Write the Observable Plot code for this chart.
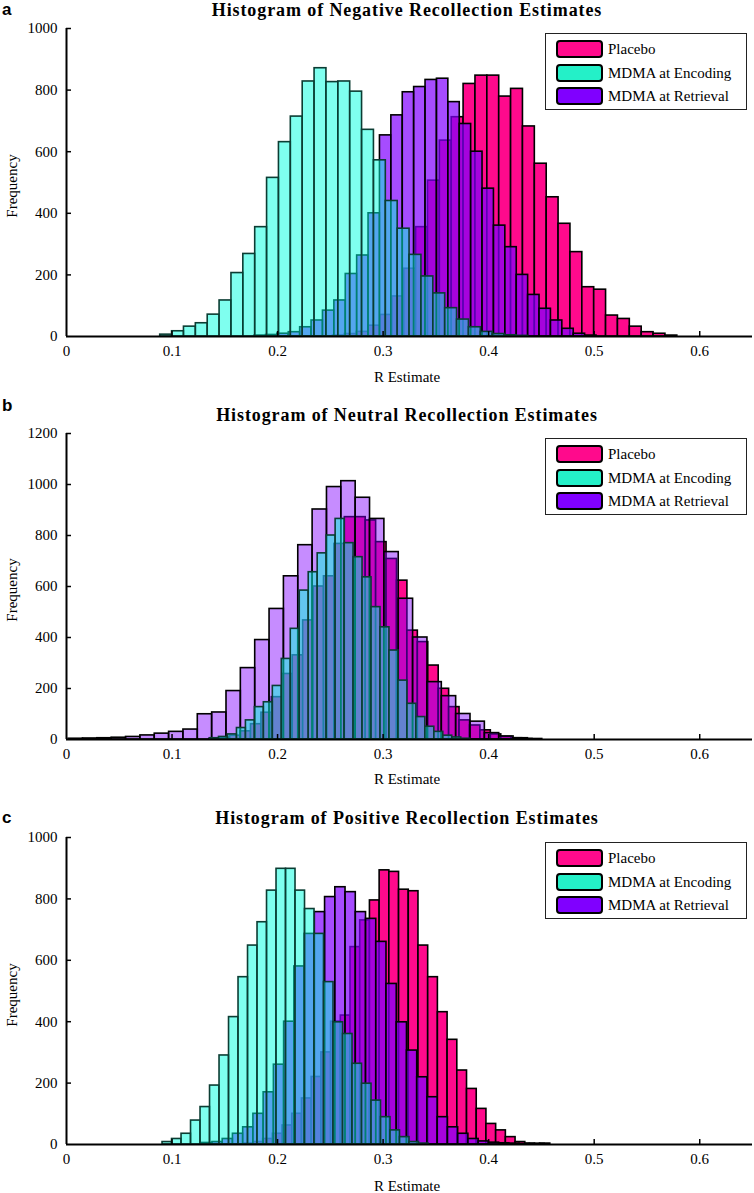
<!DOCTYPE html>
<html>
<head>
<meta charset="utf-8">
<script src="https://cdn.jsdelivr.net/npm/d3@7"></script>
<script src="https://cdn.jsdelivr.net/npm/@observablehq/plot@0.6"></script>
<style>
  body { margin: 0; background: #fff; }
  #root { position: relative; width: 754px; height: 1193px; overflow: hidden; background: #fff;
          font-family: "Liberation Serif", "Times New Roman", serif; color: #000; }
  .abs { position: absolute; }
  .letter { font-family: "Liberation Sans", Arial, sans-serif; font-weight: bold; font-size: 17px; line-height: 17px; }
  .title { font-family: "Liberation Serif", serif; font-weight: bold; font-size: 18px; letter-spacing: 0.9px; white-space: nowrap; transform: translate(-50%, -50%); }
  .xlab { font-family: "Liberation Serif", serif; font-size: 15px; white-space: nowrap; transform: translate(-50%, -50%); }
  .ylab { font-family: "Liberation Serif", serif; font-size: 15px; white-space: nowrap; transform: translate(-50%, -50%) rotate(-90deg); }
  .legend { border: 1.5px solid #222; background: #fff; box-sizing: border-box; }
  .sw { position: absolute; left: 10px; width: 47px; height: 18px; border: 2px solid #000; border-radius: 4px; box-sizing: border-box; }
  .lt { position: absolute; left: 62px; font-family: "Liberation Serif", "Times New Roman", serif; font-size: 15px; line-height: 18px; white-space: nowrap; }
</style>
</head>
<body>
<div id="root"></div>
<script>
// ---------- labels / ticks ----------
const panelLetters = ["a", "b", "c"];
const panelTitles = [
  "Histogram of Negative Recollection Estimates",
  "Histogram of Neutral Recollection Estimates",
  "Histogram of Positive Recollection Estimates"
];
const xLabel = "R Estimate";
const yLabel = "Frequency";
const seriesNames = ["Placebo", "MDMA at Encoding", "MDMA at Retrieval"];
const seriesColors = ["#ff0a8c", "#00ffe0", "#8000ff"];
const legendColors = ["#ff0a8c", "#24f0c8", "#8000ff"];
const xTicks = [0, 0.1, 0.2, 0.3, 0.4, 0.5, 0.6];
const yTicksA = [0, 200, 400, 600, 800, 1000];
const yTicksB = [0, 200, 400, 600, 800, 1000, 1200];
const yTicksC = [0, 200, 400, 600, 800, 1000];

// ---------- panel a: Negative ----------
const negPlaceboStart = 0.2525, negPlaceboWidth = 0.01125;
const negPlaceboCounts = [3, 8, 15, 35, 70, 130, 220, 355, 506, 636, 712, 820, 847, 847, 779, 804, 682, 561, 452, 366, 274, 160, 152, 68, 57, 32, 14, 9, 3];
const negEncodingStart = 0.0888, negEncodingWidth = 0.01125;
const negEncodingCounts = [6, 17, 32, 43, 71, 117, 206, 268, 355, 515, 631, 714, 828, 871, 826, 828, 795, 671, 572, 440, 350, 265, 195, 140, 92, 55, 30, 15, 8, 4, 2];
const negRetrievalStart = 0.1782, negRetrievalWidth = 0.0108;
const negRetrievalCounts = [3, 5, 9, 14, 30, 52, 84, 117, 203, 263, 400, 653, 718, 793, 810, 833, 837, 761, 690, 600, 480, 360, 290, 200, 135, 90, 52, 25, 9, 3];

// ---------- panel b: Neutral ----------
const neuPlaceboStart = 0.1353, neuPlaceboWidth = 0.00988;
const neuPlaceboCounts = [3, 7, 15, 32, 60, 105, 166, 257, 330, 467, 600, 640, 767, 872, 872, 859, 774, 708, 623, 427, 382, 290, 199, 127, 75, 55, 36, 20, 10, 5, 2];
const neuEncodingStart = 0.136, neuEncodingWidth = 0.0085;
const neuEncodingCounts = [5, 10, 20, 45, 75, 127, 146, 210, 316, 434, 584, 656, 730, 800, 865, 770, 715, 636, 519, 440, 349, 231, 140, 88, 50, 30, 15, 8, 3];
const neuRetrievalStart = 0.002, neuRetrievalWidth = 0.0136;
const neuRetrievalCounts = [3, 4, 5, 7, 10, 16, 23, 30, 39, 99, 106, 190, 280, 390, 512, 640, 762, 902, 990, 1013, 948, 865, 735, 552, 400, 225, 170, 100, 70, 25, 12, 5, 2];

// ---------- panel c: Positive ----------
const posPlaceboStart = 0.1679, posPlaceboWidth = 0.0092;
const posPlaceboCounts = [3, 8, 18, 35, 62, 100, 150, 220, 300, 400, 420, 643, 730, 795, 893, 888, 830, 825, 648, 545, 431, 341, 241, 181, 116, 67, 46, 24, 8, 3, 2];
const posEncodingStart = 0.091, posEncodingWidth = 0.009;
const posEncodingCounts = [8, 18, 35, 78, 122, 192, 290, 415, 545, 648, 724, 827, 898, 898, 827, 767, 686, 529, 398, 360, 263, 198, 143, 89, 46, 24, 8, 3];
const posRetrievalStart = 0.1286, posRetrievalWidth = 0.0097;
const posRetrievalCounts = [5, 8, 18, 35, 56, 100, 170, 260, 400, 580, 686, 757, 806, 838, 822, 757, 735, 660, 523, 398, 306, 219, 154, 89, 56, 35, 18, 10, 6, 4, 3, 2, 2, 3];

// ---------- build ----------
function binRows(start, width, counts) {
  return counts.map((c, i) => ({x1: start + i * width, x2: start + (i + 1) * width, count: c}));
}

const panels = [
  {yMax: 1000, yTicks: yTicksA, purpleAlpha: 0.7,
   placebo: binRows(negPlaceboStart, negPlaceboWidth, negPlaceboCounts),
   encoding: binRows(negEncodingStart, negEncodingWidth, negEncodingCounts),
   retrieval: binRows(negRetrievalStart, negRetrievalWidth, negRetrievalCounts),
   top: 20, plotTop: 28, axisY: 336, titleY: 10, letterY: 1, xLabY: 377},
  {yMax: 1200, yTicks: yTicksB, purpleAlpha: 0.45,
   placebo: binRows(neuPlaceboStart, neuPlaceboWidth, neuPlaceboCounts),
   encoding: binRows(neuEncodingStart, neuEncodingWidth, neuEncodingCounts),
   retrieval: binRows(neuRetrievalStart, neuRetrievalWidth, neuRetrievalCounts),
   top: 425, plotTop: 433, axisY: 739, titleY: 415, letterY: 397, xLabY: 779},
  {yMax: 1000, yTicks: yTicksC, purpleAlpha: 0.7,
   placebo: binRows(posPlaceboStart, posPlaceboWidth, posPlaceboCounts),
   encoding: binRows(posEncodingStart, posEncodingWidth, posEncodingCounts),
   retrieval: binRows(posRetrievalStart, posRetrievalWidth, posRetrievalCounts),
   top: 829, plotTop: 837, axisY: 1144, titleY: 818, letterY: 809, xLabY: 1186}
];

const root = document.getElementById("root");
function addDiv(cls, text, css) {
  const d = document.createElement("div");
  d.className = "abs " + cls;
  if (text != null) d.textContent = text;
  Object.assign(d.style, css);
  root.appendChild(d);
  return d;
}

panels.forEach((P, k) => {
  const svg = Plot.plot({
    width: 754,
    height: P.axisY - P.top + 28,
    marginLeft: 66, marginRight: 2, marginTop: P.plotTop - P.top, marginBottom: 28,
    style: {fontFamily: '"Liberation Serif", "Times New Roman", serif', fontSize: "15px", color: "#000", background: "transparent", overflow: "visible"},
    x: {domain: [0, 0.65], ticks: xTicks, tickSize: 0, tickPadding: 9, tickFormat: d => String(d), label: null},
    y: {domain: [0, P.yMax], ticks: P.yTicks, tickSize: 0, tickPadding: 9, tickFormat: d => String(d), label: null},
    marks: [
      Plot.rect(P.placebo, {x1: "x1", x2: "x2", y1: 0, y2: "count", fill: seriesColors[0], stroke: "#000", strokeWidth: 1.6}),
      Plot.rect(P.retrieval, {x1: "x1", x2: "x2", y1: 0, y2: "count", fill: seriesColors[2], fillOpacity: P.purpleAlpha, stroke: "#000", strokeWidth: 1.6}),
      Plot.rect(P.encoding, {x1: "x1", x2: "x2", y1: 0, y2: "count", fill: seriesColors[1], fillOpacity: 0.5, stroke: "#0b3d33", strokeWidth: 1.6}),
      Plot.ruleY([0], {strokeWidth: 2}),
      Plot.ruleX([0], {strokeWidth: 2}),
      Plot.ruleX(xTicks.slice(1), {x: d => d, y1: 0, y2: 0, insetTop: -5, strokeWidth: 1.5}),
      Plot.ruleY(P.yTicks.slice(1), {y: d => d, x1: 0, x2: 0, insetRight: -5, strokeWidth: 1.5})
    ]
  });
  svg.style.position = "absolute";
  svg.style.left = "0px";
  svg.style.top = P.top + "px";
  root.appendChild(svg);

  addDiv("letter", panelLetters[k], {left: "2px", top: P.letterY + "px"});
  addDiv("title", panelTitles[k], {left: "407px", top: P.titleY + "px"});
  addDiv("xlab", xLabel, {left: "407px", top: P.xLabY + "px"});
  addDiv("ylab", yLabel, {left: "12px", top: ((P.plotTop + P.axisY) / 2 + 4) + "px"});

  const lg = addDiv("legend", null, {left: "545px", top: (P.plotTop + 5) + "px", width: "202px", height: "77px"});
  seriesNames.forEach((name, j) => {
    const sw = document.createElement("div");
    sw.className = "sw";
    sw.style.top = (6 + j * 23.5) + "px";
    sw.style.background = legendColors[j];
    lg.appendChild(sw);
    const t = document.createElement("div");
    t.className = "lt";
    t.style.top = (6 + j * 23.5) + "px";
    t.textContent = name;
    lg.appendChild(t);
  });
});
</script>
</body>
</html>
